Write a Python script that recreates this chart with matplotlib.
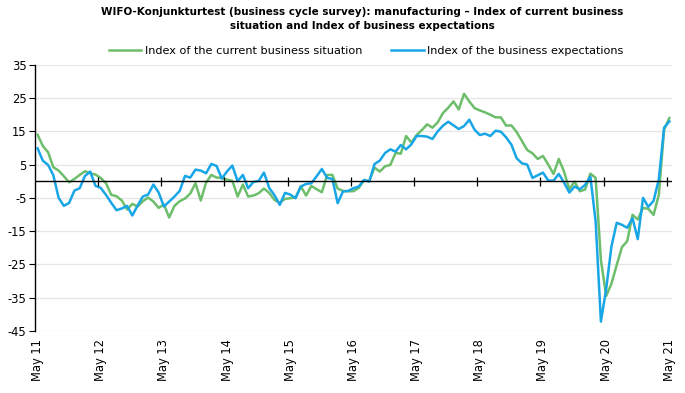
import matplotlib
matplotlib.use("Agg")
import matplotlib.pyplot as plt
import numpy as np

title = "WIFO-Konjunkturtest (business cycle survey): manufacturing – Index of current business\nsituation and Index of business expectations"
series_names = ["Index of the current business situation", "Index of the business expectations"]

# Monthly values, May 2011 ... May 2021
current_situation = [
    14.0, 10.6, 8.7, 4.2, 3.2, 1.5, -0.3, 0.7, 1.9, 3.0, 2.4, 2.0,
    1.0, -0.6, -4.1, -4.5, -5.8, -8.5, -6.8, -7.6, -6.0, -4.9, -6.1, -8.0,
    -7.0, -10.9, -7.4, -6.0, -5.2, -3.7, -0.6, -5.8, -0.4, 1.9, 1.1, 1.0,
    0.5, 0.1, -4.6, -1.0, -4.6, -4.3, -3.6, -2.2, -3.5, -5.6, -6.5, -5.3,
    -5.1, -4.9, -1.5, -4.3, -1.4, -2.4, -3.3, 1.9, 1.9, -2.2, -2.9, -3.0,
    -3.0, -2.0, 0.3, 0.1, 4.1, 2.9, 4.5, 4.9, 8.5, 8.3, 13.6, 11.6,
    13.9, 15.4, 17.1, 16.1, 17.7, 20.5, 22.1, 24.0, 21.6, 26.3, 24.0, 22.0,
    21.3, 20.7, 20.0, 19.2, 19.2, 16.7, 16.8, 14.8, 12.1, 9.4, 8.4, 6.7,
    7.6, 5.0, 2.2, 6.7, 2.9, -2.4, -0.1, -3.0, -2.5, 2.3, 1.0, -23.7,
    -34.5, -30.8, -25.2, -19.8, -18.0, -10.1, -11.5, -8.0, -8.3, -10.1, -4.1, 15.5,
    19.0,
]
business_expectations = [
    9.9, 6.2, 4.9, 1.8, -5.0, -7.4, -6.5, -2.8, -2.1, 1.6, 2.9, -1.4,
    -2.0, -4.1, -6.5, -8.7, -8.2, -7.4, -10.3, -7.3, -4.6, -4.0, -1.0, -3.4,
    -7.6, -6.1, -4.6, -2.9, 1.6, 1.1, 3.5, 3.2, 2.4, 5.2, 4.6, 0.8,
    3.0, 4.7, 0.0, 1.9, -2.1, -0.2, 0.1, 2.6, -2.0, -4.2, -7.1, -3.5,
    -4.0, -5.1, -1.6, -0.8, -0.6, 1.5, 3.7, 1.0, 0.7, -6.6, -3.1, -2.9,
    -2.1, -1.6, 0.4, -0.1, 5.2, 6.2, 8.5, 9.6, 8.9, 10.9, 9.6, 11.1,
    13.6, 13.6, 13.4, 12.7, 15.0, 16.7, 17.9, 16.8, 15.7, 16.6, 18.5, 15.5,
    13.9, 14.3, 13.6, 15.2, 14.9, 13.2, 11.0, 6.9, 5.4, 5.0, 1.0, 1.8,
    2.6, 0.2, 0.2, 2.2, -0.4, -3.4, -1.6, -2.4, -1.1, 1.4, -12.1, -42.2,
    -32.4, -19.6, -12.5, -13.1, -14.0, -11.1, -17.4, -5.0, -7.7, -5.9, 0.6, 16.1,
    18.0,
]
x_labels = ["May 11", "May 12", "May 13", "May 14", "May 15", "May 16",
            "May 17", "May 18", "May 19", "May 20", "May 21"]
y_ticks = [35, 25, 15, 5, -5, -15, -25, -35, -45]

green = "#6DBE6B"
blue = "#19A6E6"

fig = plt.figure(figsize=(6.85, 3.93), dpi=100)
ax = fig.add_axes([0.051, 0.158, 0.930, 0.677])

x = np.arange(len(current_situation))
ax.plot(x, current_situation, color=green, lw=1.8, label=series_names[0], zorder=3)
ax.plot(x, business_expectations, color=blue, lw=1.8, label=series_names[1], zorder=4)

ax.set_xlim(-0.5, len(x) - 0.5)
ax.set_ylim(min(y_ticks), max(y_ticks))
ax.set_yticks(y_ticks)
ax.set_yticklabels([str(v) for v in y_ticks], fontsize=8.3)
ax.tick_params(axis="y", length=4, width=0.8, color="black", pad=2)
ax.grid(axis="y", color="#E6E6E6", lw=0.9, zorder=0)
ax.set_axisbelow(True)

label_pos = np.arange(0, len(x), 12)
ax.set_xticks(label_pos)
ax.set_xticklabels(x_labels, rotation=90, fontsize=8.3)
ax.tick_params(axis="x", length=0, pad=6)

for s in ["top", "right", "bottom"]:
    ax.spines[s].set_visible(False)
ax.spines["left"].set_color("black")
ax.spines["left"].set_linewidth(1.0)

# zero line with category-boundary tick marks
ax.axhline(0, color="black", lw=1.0, zorder=5)
boundaries = label_pos[1:] - 0.5
ax.vlines(boundaries, -1.3, 1.3, color="black", lw=0.9, zorder=5)

fig.text(0.529, 0.983, title, ha="center", va="top", fontsize=7.5,
         fontweight="bold", linespacing=1.55)
ax.legend(loc="lower center", bbox_to_anchor=(0.52, 1.005), ncol=2, frameon=False,
          fontsize=8.1, handlelength=2.9, columnspacing=2.6, handletextpad=0.3,
          borderaxespad=0.25)

fig.savefig("out.png", dpi=100)
